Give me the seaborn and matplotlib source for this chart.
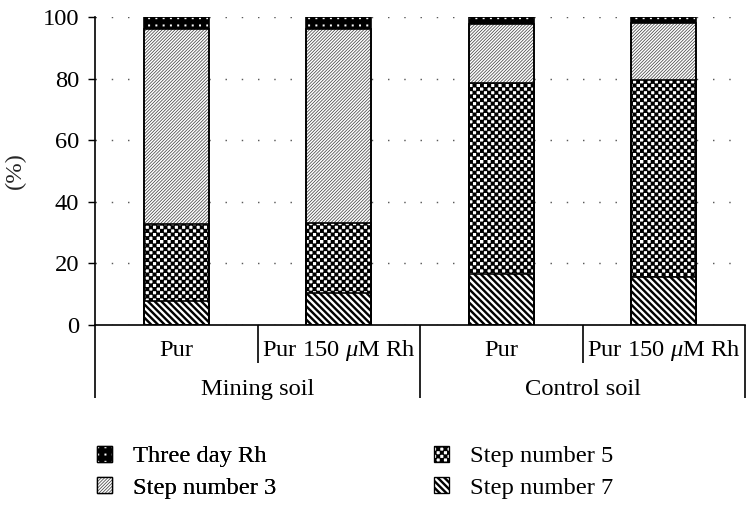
import warnings
warnings.filterwarnings("ignore")
import numpy as np
import pandas as pd
import matplotlib
matplotlib.use("Agg")
import matplotlib.pyplot as plt
import matplotlib.hatch as mhatch
from matplotlib.path import Path
from matplotlib.patches import Patch
import seaborn as sns

# ---------------- data ----------------
bar_ids = ["Mining soil / Pur", "Mining soil / Pur 150 uM Rh",
           "Control soil / Pur", "Control soil / Pur 150 uM Rh"]
sub_labels = ["Pur", r"Pur 150 $\mu$M Rh", "Pur", r"Pur 150 $\mu$M Rh"]
group_labels = ["Mining soil", "Control soil"]
series_names = ["Three day Rh", "Step number 3", "Step number 5", "Step number 7"]
step7 = [7.7, 10.4, 16.5, 15.6]
step5 = [25.1, 22.6, 62.0, 64.0]
step3 = [63.4, 63.3, 19.3, 18.6]
three_day = [3.8, 3.7, 2.2, 1.8]
y_ticks = [0, 20, 40, 60, 80, 100]
y_label = "(%)"

# ---------------- custom hatch patterns ----------------
DPI = 80
W, H = 754, 511
CODES5 = [Path.MOVETO, Path.LINETO, Path.LINETO, Path.LINETO, Path.CLOSEPOLY]


class _PolyHatch(mhatch.HatchPatternBase):
    char = "?"

    def __init__(self, hatch, density):
        k = hatch.count(self.char) if hatch else 0
        self.polys = self.make_polys() if k else []
        self.num_vertices = 5 * len(self.polys)

    def set_vertices_and_codes(self, vertices, codes):
        vertices[:] = np.array(self.polys, dtype=float).reshape(-1, 2)
        codes[:] = np.tile(CODES5, len(self.polys))


class CheckerHatch(_PolyHatch):
    char = "c"

    def make_polys(self):
        n = 22
        s = 1.0 / n
        e = 0.25 / DPI
        polys = []
        for i in range(n):
            for j in range(n):
                if (i + j) % 2 == 0:
                    x0, y0 = i * s - e, j * s - e
                    x1, y1 = (i + 1) * s + e, (j + 1) * s + e
                    polys.append([(x0, y0), (x1, y0), (x1, y1), (x0, y1), (x0, y0)])
        return polys


class _StripeHatch(_PolyHatch):
    m = 12
    w = 3.2 / DPI
    slope = -1

    def make_polys(self):
        m, w = self.m, self.w / 2
        polys = []
        for k in range(-m - 2, 2 * m + 3):
            c = k / m
            if self.slope < 0:
                pts = [(-1, c + 1 - w), (2, c - 2 - w), (2, c - 2 + w), (-1, c + 1 + w)]
            else:
                pts = [(-1, c - 1 - w), (2, c + 2 - w), (2, c + 2 + w), (-1, c - 1 + w)]
            polys.append(pts + [pts[0]])
        return polys


class BackStripeHatch(_StripeHatch):
    char = "b"
    m = 12
    w = 3.4 / DPI
    slope = -1


class FineSlashHatch(_StripeHatch):
    char = "f"
    m = 25
    w = 1.1 / DPI
    slope = 1


class DotHatch(_PolyHatch):
    char = "d"

    def make_polys(self):
        n = 11
        s = 2.0 / DPI / 2
        polys = []
        for i in range(n):
            for j in range(n):
                cx, cy = (i + 0.5) / n, (j + 0.5) / n
                polys.append([(cx - s, cy - s), (cx + s, cy - s), (cx + s, cy + s),
                              (cx - s, cy + s), (cx - s, cy - s)])
        return polys


mhatch._hatch_types.extend([CheckerHatch, BackStripeHatch, FineSlashHatch, DotHatch])
mhatch._validate_hatch_pattern = lambda hatch: None

# ---------------- style ----------------
sns.set_theme(style="white")
FS = 22
plt.rcParams.update({
    "font.family": ["Liberation Serif", "DejaVu Serif"],
    "mathtext.fontset": "custom",
    "mathtext.rm": "Liberation Serif",
    "mathtext.it": "Liberation Serif:italic",
    "hatch.linewidth": 0.0,
    "axes.edgecolor": "black",
    "text.color": "black",
    "ytick.color": "black",
})

fig = plt.figure(figsize=(W / DPI, H / DPI), dpi=DPI)
ax_left, ax_right, ax_top, ax_bot = 95, 745, 17.3, 324.7
ax = fig.add_axes([ax_left / W, 1 - ax_bot / H, (ax_right - ax_left) / W, (ax_bot - ax_top) / H])

df = pd.DataFrame({"bar": bar_ids, "s7": step7, "s5": step5, "s3": step3, "td": three_day})
df["top7"] = df["s7"]
df["top5"] = df["top7"] + df["s5"]
df["top3"] = df["top5"] + df["s3"]
df["toptd"] = df["top3"] + df["td"]

# (column, facecolor, hatch colour, hatch)
layers = [("toptd", "black", "white", "d"),
          ("top3", "white", "#4a4a4a", "f"),
          ("top5", "white", "black", "c"),
          ("top7", "white", "black", "b")]
for col, fc, hc, h in layers:
    sns.barplot(data=df, x="bar", y=col, order=bar_ids, width=0.4, errorbar=None,
                color="black", facecolor=fc, edgecolor=hc, hatch=h, linewidth=0,
                zorder=2, ax=ax)
for col, _, _, _ in layers:
    sns.barplot(data=df, x="bar", y=col, order=bar_ids, width=0.4, errorbar=None,
                color="black", facecolor="none", edgecolor="black", linewidth=1.5,
                zorder=3, ax=ax)

ax.set_xlim(-0.5, len(bar_ids) - 0.5)
ax.set_ylim(0, 100)
ax.set_yticks(y_ticks)
ax.set_yticklabels([str(t) for t in y_ticks])
ax.tick_params(axis="y", direction="out", length=6.3, width=1.3, pad=8, labelsize=FS, left=True)
ax.tick_params(axis="x", length=0, labelbottom=False)
ax.set_xlabel("")
ax.set_ylabel(y_label, fontsize=FS)
ax.yaxis.set_label_coords(-0.106, 0.5)

ax.yaxis.grid(True, linestyle=(0, (1, 10.25)), linewidth=1.3, color="#5a5a5a")
ax.xaxis.grid(False)
ax.set_axisbelow(True)
for s in ["top", "right"]:
    ax.spines[s].set_visible(False)
for s in ["left", "bottom"]:
    ax.spines[s].set_linewidth(1.5)
    ax.spines[s].set_color("black")

# hierarchical category axis
trans = ax.get_xaxis_transform()
ax_h = ax_bot - ax_top
long_y, short_y = -73 / ax_h, -38 / ax_h
for i in range(len(bar_ids) + 1):
    y_end = long_y if i % 2 == 0 else short_y
    ax.plot([i - 0.5, i - 0.5], [0, y_end], transform=trans, color="black",
            lw=1.5, clip_on=False, solid_capstyle="butt")
for i, lab in enumerate(sub_labels):
    ax.text(i, -31.5 / ax_h, lab, transform=trans, ha="center", va="baseline", fontsize=FS)
for g, lab in enumerate(group_labels):
    ax.text(2 * g + 0.5, -70 / ax_h, lab, transform=trans, ha="center", va="baseline", fontsize=FS)

# legend
fc_map = {"Three day Rh": ("black", "white", "d"),
          "Step number 3": ("white", "#4a4a4a", "f"),
          "Step number 5": ("white", "black", "c"),
          "Step number 7": ("white", "black", "b")}
handles = []
for name in series_names:
    fc, hc, h = fc_map[name]
    handles.append((Patch(facecolor=fc, edgecolor=hc, hatch=h, linewidth=0),
                    Patch(facecolor="none", edgecolor="black", linewidth=1.2)))
fs_px = FS * DPI / 72
leg_kw = dict(frameon=False, borderpad=0, borderaxespad=0, fontsize=FS,
              handlelength=15 / fs_px, handleheight=15 / fs_px,
              handletextpad=21 / fs_px, labelspacing=0.40, loc="upper left")
leg1 = fig.legend(handles[:2], series_names[:2], bbox_to_anchor=(97 / W, 1 - 446 / H), **leg_kw)
fig.add_artist(leg1)
fig.legend(handles[2:], series_names[2:], bbox_to_anchor=(434 / W, 1 - 446 / H), **leg_kw)

fig.savefig("out.png", dpi=DPI)
